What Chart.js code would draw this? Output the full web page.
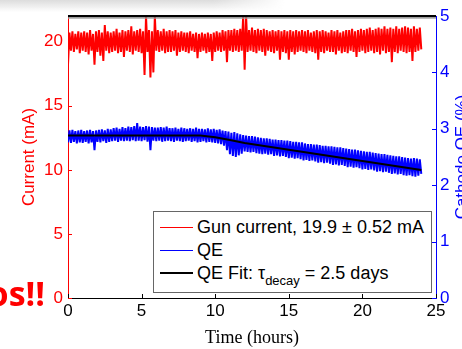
<!DOCTYPE html>
<html>
<head>
<meta charset="utf-8">
<script src="https://cdn.jsdelivr.net/npm/chart.js@4.4.1/dist/chart.umd.min.js"></script>
<style>
  html, body { margin: 0; padding: 0; background: #fff; }
  #wrap { position: relative; width: 462px; height: 349px; overflow: hidden; }
  #c { position: absolute; left: 0; top: 0; }
  #shade {
    position: absolute; left: 0; top: 0; width: 285px; height: 12px;
    background: linear-gradient(to bottom, #dcdcdc, rgba(255,255,255,0));
    -webkit-mask-image: linear-gradient(to right, #000 75%, transparent);
    mask-image: linear-gradient(to right, #000 75%, transparent);
  }
  #slideText {
    position: absolute; left: -100px; top: 276px; width: 145px; text-align: right;
    font: bold 34px/34px 'Open Sans', sans-serif; color: #f00; white-space: nowrap;
  }
  #legend {
    position: absolute; left: 153px; top: 211px; width: 277px; height: 80px;
    border: 1px solid #666; background: #fff;
    font-family: 'Liberation Sans', Arial, sans-serif; font-size: 18px; color: #000;
  }
  .row { position: absolute; left: 0; height: 22px; line-height: 22px; white-space: nowrap; }
  .swatch { position: absolute; left: 6px; width: 33px; top: 11px; }
  .lbl { position: absolute; left: 43px; top: 0; }
  sub { font-size: 13px; vertical-align: -6px; line-height: 0; }
</style>
</head>
<body>
<div id="wrap">
  <canvas id="c" width="462" height="349"></canvas>
  <div id="shade"></div>
  <div id="slideText">os!!</div>
  <div id="legend">
    <div class="row" style="top:4px"><div class="swatch" style="border-top:1px solid #f00"></div><span class="lbl">Gun current, 19.9 ± 0.52 mA</span></div>
    <div class="row" style="top:27px"><div class="swatch" style="border-top:1px solid #00f"></div><span class="lbl">QE</span></div>
    <div class="row" style="top:50px"><div class="swatch" style="border-top:2px solid #000;top:10px"></div><span class="lbl">QE Fit: τ<sub>decay</sub> = 2.5 days</span></div>
  </div>
</div>
<script>
'use strict';

// samples every 0.1 h, one row per hour (t = h.0 ... h.9), last value at t = 24.0
const SAMPLE_STEP = 0.1;

// gun current (mA), left axis
const gunCurrent = [
  18.2, 20.7, 19.3, 20.8, 19.2, 20.6, 19.4, 20.8, 19.1, 20.7,
  19.3, 20.8, 19.2, 20.7, 19.0, 20.9, 19.3, 20.6, 18.2, 20.8,
  19.2, 20.9, 18.9, 20.7, 18.5, 21.3, 19.3, 20.8, 19.1, 20.7,
  19.2, 20.8, 19.3, 21.0, 19.1, 20.7, 19.2, 20.9, 18.8, 20.8,
  19.3, 20.9, 19.2, 21.2, 19.0, 20.8, 19.3, 20.9, 19.2, 21.0,
  19.1, 20.8, 17.4, 22.0, 19.2, 20.9, 17.2, 20.8, 17.6, 22.0,
  19.3, 20.9, 19.2, 20.8, 19.3, 21.0, 19.1, 20.8, 19.2, 20.9,
  19.2, 20.8, 19.3, 20.9, 18.9, 20.7, 19.2, 20.8, 19.3, 20.7,
  19.2, 20.7, 19.1, 20.8, 19.3, 20.6, 19.2, 20.7, 18.7, 20.6,
  19.2, 20.7, 19.3, 20.6, 19.1, 20.7, 19.2, 20.6, 18.5, 20.7,
  19.2, 20.8, 19.3, 20.7, 19.2, 20.9, 19.3, 20.8, 18.4, 20.9,
  19.3, 20.9, 19.2, 21.0, 19.3, 20.9, 19.2, 21.0, 19.3, 22.0,
  17.8, 22.0, 19.2, 20.9, 19.3, 21.1, 19.2, 20.9, 19.1, 21.0,
  19.3, 20.9, 19.2, 21.0, 18.9, 20.9, 19.3, 20.8, 19.2, 20.9,
  19.1, 20.8, 19.3, 20.9, 18.6, 20.8, 19.2, 20.9, 19.1, 20.8,
  18.6, 20.9, 19.2, 20.8, 19.0, 20.9, 19.2, 20.8, 19.3, 20.9,
  19.2, 20.8, 19.1, 20.9, 19.3, 20.7, 19.2, 20.8, 19.1, 20.9,
  18.6, 20.8, 19.2, 20.9, 19.1, 20.8, 19.3, 20.7, 19.2, 20.9,
  19.2, 20.8, 19.0, 20.9, 19.3, 20.7, 19.1, 20.8, 19.2, 20.9,
  19.1, 20.9, 19.3, 21.0, 19.2, 20.8, 18.8, 20.9, 19.2, 21.0,
  19.3, 20.9, 19.1, 21.0, 19.2, 21.1, 19.3, 20.9, 19.1, 21.0,
  19.2, 21.1, 19.0, 21.0, 19.3, 21.2, 19.1, 21.0, 19.2, 21.1,
  18.4, 21.0, 19.2, 21.2, 19.1, 21.0, 19.3, 21.1, 19.2, 21.2,
  19.1, 21.1, 19.2, 21.0, 18.5, 21.2, 19.2, 21.0, 19.3, 21.1,
  19.4
];

// cathode QE (%), right axis
const cathodeQE = [
  2.76, 2.97, 2.75, 2.98, 2.77, 2.96, 2.74, 2.97, 2.76, 2.98,
  2.75, 2.96, 2.77, 2.97, 2.74, 2.98, 2.76, 2.96, 2.62, 2.97,
  2.77, 2.98, 2.76, 2.99, 2.78, 2.97, 2.75, 3.00, 2.77, 2.99,
  2.78, 3.01, 2.79, 3.02, 2.77, 3.00, 2.79, 3.03, 2.78, 3.01,
  2.79, 3.04, 2.78, 3.03, 2.80, 3.05, 2.78, 3.10, 2.79, 3.04,
  2.78, 3.03, 2.80, 3.05, 2.77, 3.04, 2.62, 3.03, 2.79, 3.02,
  2.78, 3.02, 2.79, 3.03, 2.77, 3.02, 2.78, 3.04, 2.79, 3.01,
  2.78, 3.01, 2.77, 3.02, 2.79, 3.00, 2.78, 3.02, 2.77, 3.01,
  2.78, 3.00, 2.79, 3.01, 2.77, 3.00, 2.78, 3.02, 2.76, 3.00,
  2.77, 3.00, 2.78, 2.99, 2.76, 3.01, 2.77, 2.99, 2.76, 3.00,
  2.75, 2.98, 2.74, 2.99, 2.73, 2.97, 2.70, 2.96, 2.62, 2.95,
  2.55, 2.93, 2.52, 2.94, 2.50, 2.92, 2.53, 2.90, 2.56, 2.89,
  2.60, 2.88, 2.59, 2.87, 2.58, 2.87, 2.59, 2.86, 2.57, 2.85,
  2.56, 2.84, 2.55, 2.83, 2.56, 2.83, 2.54, 2.82, 2.55, 2.81,
  2.52, 2.81, 2.53, 2.80, 2.51, 2.80, 2.52, 2.79, 2.50, 2.79,
  2.48, 2.78, 2.49, 2.77, 2.47, 2.77, 2.48, 2.76, 2.46, 2.76,
  2.44, 2.74, 2.45, 2.73, 2.43, 2.73, 2.44, 2.72, 2.42, 2.72,
  2.40, 2.71, 2.41, 2.70, 2.39, 2.70, 2.40, 2.69, 2.38, 2.69,
  2.36, 2.68, 2.37, 2.67, 2.35, 2.67, 2.36, 2.66, 2.34, 2.65,
  2.32, 2.64, 2.33, 2.63, 2.31, 2.63, 2.32, 2.62, 2.30, 2.61,
  2.28, 2.60, 2.29, 2.59, 2.27, 2.59, 2.28, 2.58, 2.26, 2.57,
  2.24, 2.56, 2.25, 2.55, 2.23, 2.55, 2.24, 2.54, 2.22, 2.53,
  2.20, 2.52, 2.21, 2.51, 2.19, 2.51, 2.20, 2.50, 2.18, 2.49,
  2.17, 2.48, 2.18, 2.47, 2.16, 2.48, 2.15, 2.47, 2.17, 2.46,
  2.20
];

// QE fit (tau_decay = 2.5 days)
const fitTimes = [0, 9, 10, 11, 12, 13, 14, 15, 16, 17, 18, 19, 20, 21, 22, 23, 24];
const fitQE = [2.88, 2.88, 2.85, 2.80, 2.75, 2.71, 2.67, 2.63, 2.59, 2.55, 2.51, 2.47, 2.43, 2.39, 2.35, 2.31, 2.27];

// tick labels
const timeTicks = [0, 5, 10, 15, 20, 25];
const currentTicks = [0, 5, 10, 15, 20];
const qeTicks = [0, 1, 2, 3, 4, 5];

const sans = "'Liberation Sans', Arial, sans-serif";
const toXY = (arr) => arr.map((v, i) => ({ x: Math.round(i * SAMPLE_STEP * 10) / 10, y: v }));

// matlab-style inward ticks, heavy top frame line, right axis title
const axesDecor = {
  id: 'axesDecor',
  afterDatasetsDraw(chart) {
    const { ctx, chartArea: a, scales } = chart;
    ctx.save();
    ctx.lineWidth = 1;

    ctx.strokeStyle = '#ff0000';
    currentTicks.forEach((v) => {
      const y = Math.round(scales.y.getPixelForValue(v)) + 0.5;
      ctx.beginPath(); ctx.moveTo(a.left, y); ctx.lineTo(a.left + 4, y); ctx.stroke();
    });

    ctx.strokeStyle = '#0000ff';
    qeTicks.forEach((v) => {
      const y = Math.round(scales.y1.getPixelForValue(v)) + 0.5;
      ctx.beginPath(); ctx.moveTo(a.right - 4, y); ctx.lineTo(a.right, y); ctx.stroke();
    });

    ctx.strokeStyle = '#000';
    timeTicks.forEach((v) => {
      const x = Math.round(scales.x.getPixelForValue(v)) + 0.5;
      ctx.beginPath(); ctx.moveTo(x, a.bottom); ctx.lineTo(x, a.bottom - 4); ctx.stroke();
    });

    ctx.fillStyle = '#000';
    ctx.fillRect(a.left, a.top - 1, a.right - a.left, 2.4);
    ctx.fillStyle = '#a0a0a0';
    ctx.fillRect(a.left, a.top + 1.4, a.right - a.left, 1.3);

    ctx.translate(462, (a.top + a.bottom) / 2);
    ctx.rotate(-Math.PI / 2);
    ctx.font = '17px ' + sans;
    ctx.fillStyle = '#0000ff';
    ctx.textAlign = 'center';
    ctx.textBaseline = 'middle';
    ctx.fillText('Cathode QE (%)', 0, 0);
    ctx.restore();
  }
};

const ctx = document.getElementById('c').getContext('2d');

new Chart(ctx, {
  type: 'line',
  data: {
    datasets: [
      {
        data: fitTimes.map((t, i) => ({ x: t, y: fitQE[i] })),
        yAxisID: 'y1',
        borderColor: '#000',
        borderWidth: 2,
        pointRadius: 0,
        tension: 0,
        order: 0
      },
      {
        data: toXY(cathodeQE),
        yAxisID: 'y1',
        borderColor: '#0000ff',
        borderWidth: 2,
        borderJoinStyle: 'bevel',
        pointRadius: 0,
        tension: 0,
        order: 1
      },
      {
        data: toXY(gunCurrent),
        yAxisID: 'y',
        borderColor: '#ff0000',
        borderWidth: 2,
        borderJoinStyle: 'bevel',
        pointRadius: 0,
        tension: 0,
        order: 2
      }
    ]
  },
  options: {
    responsive: false,
    animation: false,
    events: [],
    layout: { padding: { top: 16, left: 0, right: 0, bottom: 0 } },
    plugins: {
      legend: { display: false },
      tooltip: { enabled: false }
    },
    scales: {
      x: {
        type: 'linear',
        min: 0,
        max: 25,
        afterBuildTicks: (s) => { s.ticks = timeTicks.map((v) => ({ value: v })); },
        afterFit: (s) => { s.height = 51; },
        ticks: { color: '#000', font: { family: sans, size: 17 }, padding: 3, maxRotation: 0 },
        grid: { drawOnChartArea: false, drawTicks: false },
        border: { color: '#000', width: 1 },
        title: {
          display: true,
          text: 'Time (hours)',
          color: '#000',
          font: { family: "'Liberation Serif', 'Times New Roman', serif", size: 18 },
          padding: { top: 0, bottom: 0 }
        }
      },
      y: {
        position: 'left',
        min: 0,
        max: 22,
        afterBuildTicks: (s) => { s.ticks = currentTicks.map((v) => ({ value: v })); },
        afterFit: (s) => { s.width = 68; },
        ticks: { color: '#ff0000', font: { family: sans, size: 17 }, padding: 5 },
        grid: { drawOnChartArea: false, drawTicks: false },
        border: { color: '#ff0000', width: 1 },
        title: {
          display: true,
          text: 'Current (mA)',
          color: '#ff0000',
          font: { family: sans, size: 17 },
          padding: { top: 19, bottom: 0 }
        }
      },
      y1: {
        position: 'right',
        min: 0,
        max: 5,
        afterBuildTicks: (s) => { s.ticks = qeTicks.map((v) => ({ value: v })); },
        afterFit: (s) => { s.width = 26; },
        ticks: { color: '#0000ff', font: { family: sans, size: 17 }, padding: 4 },
        grid: { drawOnChartArea: false, drawTicks: false },
        border: { color: '#0000ff', width: 1 }
      }
    }
  },
  plugins: [axesDecor]
});
</script>
</body>
</html>
